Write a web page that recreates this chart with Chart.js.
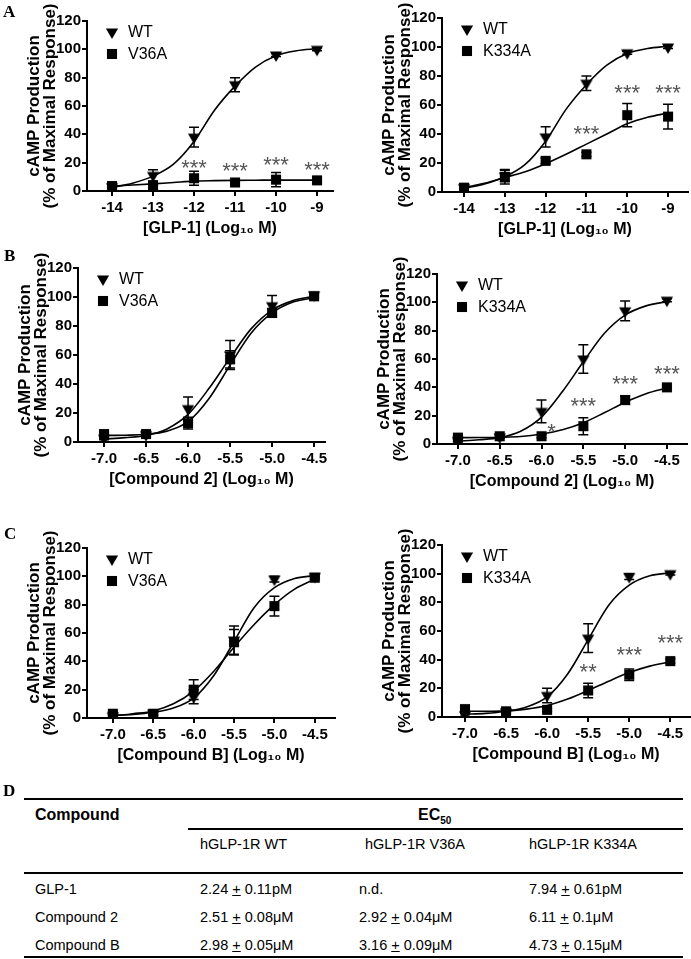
<!DOCTYPE html>
<html lang="en">
<head>
<meta charset="UTF-8" />
<title>cAMP production - GLP-1R mutants</title>
<script src="https://cdn.jsdelivr.net/npm/chart.js"></script>
<style>
  body { margin: 0; width: 691px; height: 959px; position: relative; overflow: hidden; background: #fff; font-family: "Liberation Sans", Arial, sans-serif; color: #000; }
  canvas { position: absolute; }
  .tag { position: absolute; font-family: "Liberation Serif", serif; font-weight: bold; font-size: 17px; line-height: 17px; z-index: 2; }
  .t { position: absolute; font-size: 14.5px; line-height: 16px; white-space: nowrap; }
  .th { position: absolute; font-size: 16px; font-weight: bold; line-height: 18px; white-space: nowrap; }
  .rule { position: absolute; background: #000; }
</style>
</head>
<body>
  <div class="tag" style="left:3px;top:3px">A</div>
  <div class="tag" style="left:4px;top:247px">B</div>
  <div class="tag" style="left:4px;top:525px">C</div>
  <div class="tag" style="left:3px;top:782px">D</div>

  <!-- EC50 table -->
  <div class="rule" style="left:24px;top:798px;width:659px;height:2px"></div>
  <div class="th" style="left:35px;top:806px">Compound</div>
  <div class="th" style="left:418px;top:806px">EC<sub style="font-size:10px">50</sub></div>
  <div class="rule" style="left:188px;top:828px;width:495px;height:1.5px"></div>
  <div class="t" style="left:200px;top:836px">hGLP-1R WT</div>
  <div class="t" style="left:365px;top:836px">hGLP-1R V36A</div>
  <div class="t" style="left:529px;top:836px">hGLP-1R K334A</div>
  <div class="rule" style="left:24px;top:872px;width:659px;height:2px"></div>
  <div class="t" style="left:35px;top:881px">GLP-1</div>
  <div class="t" style="left:200px;top:881px">2.24 <u>+</u> 0.11pM</div>
  <div class="t" style="left:359px;top:881px">n.d.</div>
  <div class="t" style="left:529px;top:881px">7.94 <u>+</u> 0.61pM</div>
  <div class="t" style="left:35px;top:909px">Compound 2</div>
  <div class="t" style="left:200px;top:909px">2.51 <u>+</u> 0.08μM</div>
  <div class="t" style="left:359px;top:909px">2.92 <u>+</u> 0.04μM</div>
  <div class="t" style="left:529px;top:909px">6.11 <u>+</u> 0.1μM</div>
  <div class="t" style="left:35px;top:937px">Compound B</div>
  <div class="t" style="left:200px;top:937px">2.98 <u>+</u> 0.05μM</div>
  <div class="t" style="left:359px;top:937px">3.16 <u>+</u> 0.09μM</div>
  <div class="t" style="left:529px;top:937px">4.73 <u>+</u> 0.15μM</div>
  <div class="rule" style="left:24px;top:956px;width:659px;height:2px"></div>

  <script>
    // ---- data ----
    const yTicks = [0, 20, 40, 60, 80, 100, 120];

    // A: GLP-1
    const glpDoses = [-14, -13, -12, -11, -10, -9];
    const glpFitX = [-14, -13.5, -13, -12.5, -12, -11.5, -11, -10.5, -10, -9.5, -9];
    const glpWT = [3, 11, 38, 75, 96, 100];
    const glpWTErr = [1, 4, 7, 5, 1, 1];
    const glpWTFit = [2.5, 5.5, 10.5, 19, 35, 57, 74, 87.5, 95.5, 99, 100.5];
    const glpV36A = [3.5, 4, 9, 6, 8, 7.5];
    const glpV36AErr = [1, 2, 5, 1, 5, 2];
    const glpV36AFit = [3.5, 4.2, 5, 6, 7, 7.3, 7.5, 7.6, 7.7, 7.7, 7.7];
    const glpK334A = [3, 10.5, 21.5, 26, 53, 52];
    const glpK334AErr = [1, 5, 2, 1.5, 8, 8.5];
    const glpK334AFit = [3, 6, 10, 14, 19.5, 26, 33, 40, 47, 51.5, 54.5];
    const glpV36AStarX = [-12, -11, -10, -9];
    const glpV36AStarY = [19, 17, 21, 18];
    const glpV36AStars = ['***', '***', '***', '***'];
    const glpK334AStarX = [-11, -10, -9];
    const glpK334AStarY = [43, 71, 71];
    const glpK334AStars = ['***', '***', '***'];

    // B: Compound 2, C: Compound B
    const cmpDoses = [-7.0, -6.5, -6.0, -5.5, -5.0, -4.5];
    const cmpFitX = [-7, -6.75, -6.5, -6.25, -6, -5.75, -5.5, -5.25, -5, -4.75, -4.5];

    const c2WT = [2.5, 5, 23, 60, 94, 101.5];
    const c2WTErr = [1, 1, 8, 10, 7, 1];
    const c2WTFit = [2, 3, 4.5, 9, 19, 37, 58, 78, 91, 97.5, 100.5];
    const c2V36A = [5.5, 5.5, 13, 57, 89, 100.5];
    const c2V36AErr = [1, 1, 4, 6, 3, 1];
    const c2V36AFit = [4.5, 4.7, 5.3, 7.5, 14, 30, 53, 75, 89, 96.5, 99.5];
    const c2K334A = [4.5, 5.5, 5.5, 12.6, 31, 40];
    const c2K334AErr = [1, 1, 1, 6, 3, 1];
    const c2K334AFit = [4.5, 4.6, 4.8, 5.3, 7, 10, 15, 22, 29.5, 35.5, 39.5];
    const c2K334AStarX = [-5.88, -5.5, -5.0, -4.5];
    const c2K334AStarY = [11, 30, 45, 52];
    const c2K334AStars = ['*', '***', '***', '***'];

    const cbWT = [1.5, 3.5, 15, 55, 98, 100];
    const cbWTErr = [1, 1, 5, 10, 2, 1];
    const cbWTFit = [2, 2.5, 4, 7, 14, 30, 54, 78, 92, 98.5, 100.5];
    const cbV36A = [3, 3, 20, 53.5, 79, 99];
    const cbV36AErr = [1, 1, 7, 9, 7, 1];
    const cbV36AFit = [1.5, 3, 5, 10, 19, 33, 50, 66, 80, 91, 98];
    const cbK334A = [5.5, 4, 5, 18.5, 29.5, 39];
    const cbK334AErr = [1, 1, 1, 5, 4, 1.5];
    const cbK334AFit = [4, 4, 4.3, 5.5, 8, 12.5, 18.5, 25, 31, 35.5, 38.5];
    const cbK334AStarX = [-5.5, -5.0, -4.5];
    const cbK334AStarY = [34, 46, 54.5];
    const cbK334AStars = ['**', '***', '***'];

    // ---- small plugins ----
    function marker(ctx, style, x, y, r) {
      ctx.beginPath();
      if (style === 'tri') {
        const h = r * 0.5;
        ctx.moveTo(x - r * 0.87, y - h);
        ctx.lineTo(x + r * 0.87, y - h);
        ctx.lineTo(x, y + r);
      } else {
        const s = r * 0.72;
        ctx.rect(x - s, y - s, 2 * s, 2 * s);
      }
      ctx.closePath();
      ctx.fill();
    }

    const errorBars = {
      id: 'errorBars',
      beforeDatasetsDraw(chart, args, opts) {
        const {ctx, scales: {x, y}} = chart;
        ctx.save();
        ctx.strokeStyle = '#000';
        ctx.lineWidth = 1.5;
        (opts.sets || []).forEach(s => {
          s.x.forEach((xv, i) => {
            const px = x.getPixelForValue(xv);
            const top = y.getPixelForValue(s.y[i] + s.err[i]);
            const bot = y.getPixelForValue(s.y[i] - s.err[i]);
            ctx.beginPath();
            ctx.moveTo(px, top); ctx.lineTo(px, bot);
            ctx.moveTo(px - 5, top); ctx.lineTo(px + 5, top);
            ctx.moveTo(px - 5, bot); ctx.lineTo(px + 5, bot);
            ctx.stroke();
          });
        });
        ctx.restore();
      }
    };

    const stars = {
      id: 'stars',
      afterDatasetsDraw(chart, args, opts) {
        if (!opts.x) return;
        const {ctx, scales: {x, y}} = chart;
        ctx.save();
        ctx.fillStyle = '#555';
        ctx.font = '22px "Liberation Sans", Arial, sans-serif';
        ctx.textAlign = 'center';
        ctx.textBaseline = 'middle';
        opts.x.forEach((xv, i) => {
          ctx.fillText(opts.text[i], x.getPixelForValue(xv), y.getPixelForValue(opts.y[i]) + 5);
        });
        ctx.restore();
      }
    };

    const insideLegend = {
      id: 'insideLegend',
      afterDraw(chart, args, opts) {
        const {ctx, chartArea} = chart;
        ctx.save();
        ctx.fillStyle = '#000';
        ctx.font = '16px "Liberation Sans", Arial, sans-serif';
        ctx.textBaseline = 'middle';
        opts.items.forEach((it, i) => {
          const mx = chartArea.left + opts.dx;
          const my = chartArea.top + opts.dy + i * 22;
          marker(ctx, it.style, mx, my, 7);
          ctx.fillText(it.label, mx + 16, my + 1);
        });
        ctx.restore();
      }
    };

    // custom point style so the canvas marker matches the legend
    function pointCanvas(style) {
      const c = document.createElement('canvas');
      c.width = 16; c.height = 16;
      const g = c.getContext('2d');
      g.fillStyle = '#000';
      marker(g, style, 8, 8, 7);
      return c;
    }

    function pts(xs, ys) { return xs.map((v, i) => ({x: v, y: ys[i]})); }

    function makePanel(p) {
      const yW = 60, padTop = 22, padRight = 12, xH = 48;
      const cv = document.createElement('canvas');
      const left = p.col, top = p.plot.t - padTop;
      cv.width = p.plot.r - left + padRight;
      cv.height = p.plot.b - top + xH;
      cv.style.left = left + 'px';
      cv.style.top = top + 'px';
      document.body.appendChild(cv);

      const datasets = [];
      p.series.forEach(s => {
        datasets.push({
          data: pts(p.doses, s.y), showLine: false, pointStyle: pointCanvas(s.style),
          pointRadius: 8, order: 0
        });
      });
      p.series.forEach(s => {
        datasets.push({
          data: pts(p.fitX, s.fit), showLine: true, pointRadius: 0, borderColor: '#000',
          borderWidth: 1.6, cubicInterpolationMode: 'monotone', order: 1
        });
      });

      const font = {family: '"Liberation Sans", Arial, sans-serif', weight: 'bold'};
      new Chart(cv, {
        type: 'scatter',
        data: {datasets},
        options: {
          responsive: false,
          animation: false,
          events: [],
          layout: {padding: {left: p.plot.l - p.col - yW, top: padTop, right: padRight, bottom: 0}},
          plugins: {
            legend: {display: false},
            tooltip: {enabled: false},
            errorBars: {sets: p.series.map(s => ({x: p.doses, y: s.y, err: s.err}))},
            stars: p.stars || {},
            insideLegend: {dx: 25, dy: 11, items: p.series.map(s => ({style: s.style, label: s.label}))}
          },
          scales: {
            x: {
              type: 'linear', min: p.xmin, max: p.xmax,
              afterBuildTicks: sc => { sc.ticks = p.doses.map(v => ({value: v})); },
              afterFit: sc => { sc.height = xH; },
              grid: {drawOnChartArea: false, drawTicks: true, tickLength: 5, color: '#000', lineWidth: 2},
              border: {display: true, color: '#000', width: 2},
              ticks: {color: '#000', font: {...font, size: 15}, padding: 3, maxRotation: 0, autoSkip: false,
                      callback: v => p.dec ? Number(v).toFixed(1) : String(v)},
              title: {display: true, text: p.xTitle, color: '#000', font: {...font, size: 16, lineHeight: 1.2},
                      padding: {top: 0, bottom: 1}}
            },
            y: {
              min: 0, max: 120,
              afterBuildTicks: sc => { sc.ticks = yTicks.map(v => ({value: v})); },
              afterFit: sc => { sc.width = yW; },
              grid: {drawOnChartArea: false, drawTicks: true, tickLength: 5, color: '#000', lineWidth: 2},
              border: {display: true, color: '#000', width: 2},
              ticks: {color: '#000', font: {...font, size: 15}, padding: 1},
              title: {display: true, text: ['cAMP Production', '(% of Maximal Response)'], color: '#000',
                      font: {...font, size: 17, lineHeight: 0.9}, padding: {top: 0, bottom: 0}}
            }
          }
        },
        plugins: [errorBars, stars, insideLegend]
      });
    }

    const wt = (y, err, fit) => ({label: 'WT', style: 'tri', y, err, fit});
    const mut = (label, y, err, fit) => ({label, style: 'sq', y, err, fit});

    makePanel({col: 0, plot: {l: 87, t: 21, r: 333, b: 191}, xmin: -14.61, xmax: -8.61, dec: false,
      doses: glpDoses, fitX: glpFitX, xTitle: '[GLP-1] (Log\u2081\u2080 M)',
      series: [wt(glpWT, glpWTErr, glpWTFit), mut('V36A', glpV36A, glpV36AErr, glpV36AFit)],
      stars: {x: glpV36AStarX, y: glpV36AStarY, text: glpV36AStars}});
    makePanel({col: 345, plot: {l: 442, t: 18, r: 688, b: 192}, xmin: -14.54, xmax: -8.51, dec: false,
      doses: glpDoses, fitX: glpFitX, xTitle: '[GLP-1] (Log\u2081\u2080 M)',
      series: [wt(glpWT, glpWTErr, glpWTFit), mut('K334A', glpK334A, glpK334AErr, glpK334AFit)],
      stars: {x: glpK334AStarX, y: glpK334AStarY, text: glpK334AStars}});
    makePanel({col: 0, plot: {l: 78, t: 268, r: 325, b: 442}, xmin: -7.31, xmax: -4.37, dec: true,
      doses: cmpDoses, fitX: cmpFitX, xTitle: '[Compound 2] (Log\u2081\u2080 M)',
      series: [wt(c2WT, c2WTErr, c2WTFit), mut('V36A', c2V36A, c2V36AErr, c2V36AFit)]});
    makePanel({col: 345, plot: {l: 437, t: 274, r: 687, b: 444}, xmin: -7.25, xmax: -4.26, dec: true,
      doses: cmpDoses, fitX: cmpFitX, xTitle: '[Compound 2] (Log\u2081\u2080 M)',
      series: [wt(c2WT, c2WTErr, c2WTFit), mut('K334A', c2K334A, c2K334AErr, c2K334AFit)],
      stars: {x: c2K334AStarX, y: c2K334AStarY, text: c2K334AStars}});
    makePanel({col: 0, plot: {l: 87, t: 548, r: 335, b: 718}, xmin: -7.32, xmax: -4.25, dec: true,
      doses: cmpDoses, fitX: cmpFitX, xTitle: '[Compound B] (Log\u2081\u2080 M)',
      series: [wt(cbWT, cbWTErr, cbWTFit), mut('V36A', cbV36A, cbV36AErr, cbV36AFit)]});
    makePanel({col: 345, plot: {l: 442, t: 545, r: 690, b: 717}, xmin: -7.28, xmax: -4.26, dec: true,
      doses: cmpDoses, fitX: cmpFitX, xTitle: '[Compound B] (Log\u2081\u2080 M)',
      series: [wt(cbWT, cbWTErr, cbWTFit), mut('K334A', cbK334A, cbK334AErr, cbK334AFit)],
      stars: {x: cbK334AStarX, y: cbK334AStarY, text: cbK334AStars}});
  </script>
</body>
</html>
